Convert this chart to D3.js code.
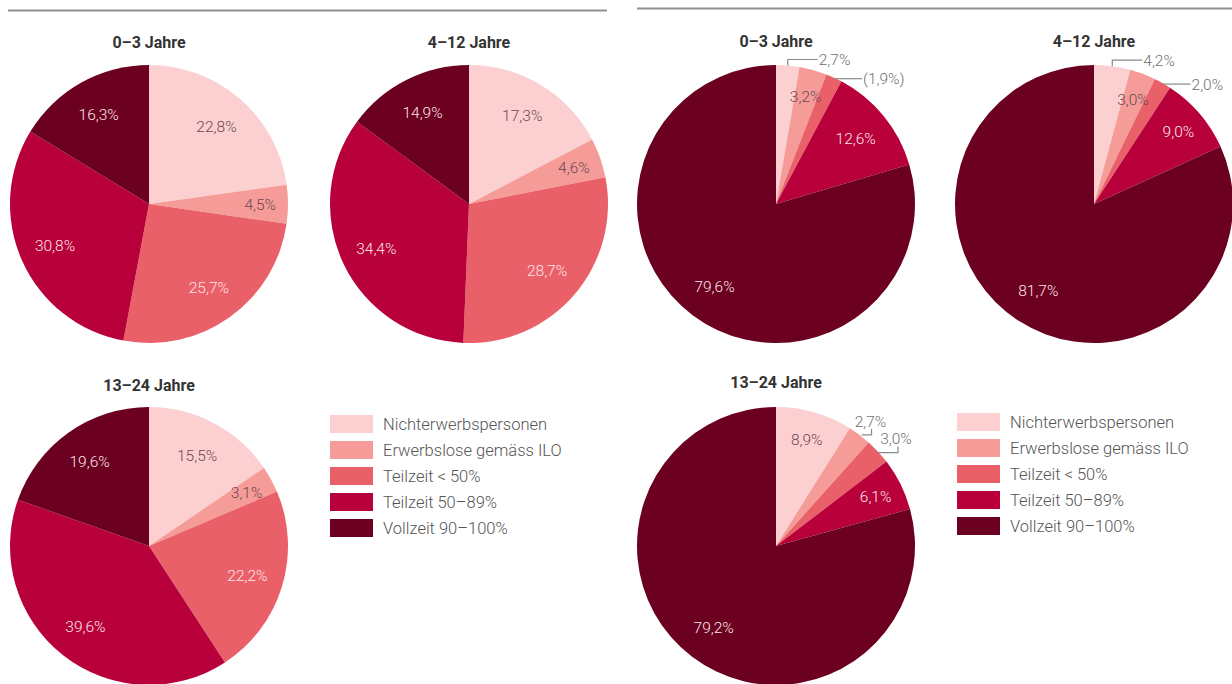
<!DOCTYPE html>
<html><head><meta charset="utf-8">
<script src="https://cdn.jsdelivr.net/npm/d3@7/dist/d3.min.js"></script>
<style>
html,body{margin:0;padding:0;background:#fff;}
svg{display:block;font-family:Roboto,"Noto Sans",sans-serif;}
</style></head>
<body><svg id="chart" width="1232" height="684"></svg>
<script>
const categories = ["Nichterwerbspersonen","Erwerbslose gemäss ILO","Teilzeit < 50%","Teilzeit 50–89%","Vollzeit 90–100%"];
const colors = ["#fcd0d0","#f59c98","#ea6068","#b8003a","#6c0020"];
const ageGroups = ["0–3 Jahre","4–12 Jahre","13–24 Jahre"];
const leftValues0 = [22.8,4.5,25.7,30.8,16.3];
const leftValues1 = [17.3,4.6,28.7,34.4,14.9];
const leftValues2 = [15.5,3.1,22.2,39.6,19.6];
const rightValues0 = [2.7,3.2,1.9,12.6,79.6];
const rightValues1 = [4.2,3.0,2.0,9.0,81.7];
const rightValues2 = [8.9,2.7,3.0,6.1,79.2];
const rightLabels0 = ["2,7%","3,2%","(1,9%)","12,6%","79,6%"];
const rightLabels1 = ["4,2%","3,0%","2,0%","9,0%","81,7%"];
const rightLabels2 = ["8,9%","2,7%","3,0%","6,1%","79,2%"];

const fmt = v => d3.format(".1f")(v).replace(".", ",") + "%";
const svg = d3.select("#chart");
const R = 139;
const color = d3.scaleOrdinal().domain(categories).range(colors);

// top rules
svg.append("line").attr("x1",8).attr("x2",607).attr("y1",10.5).attr("y2",10.5).attr("stroke","#8f8f8f").attr("stroke-width",2);
svg.append("line").attr("x1",637).attr("x2",1232).attr("y1",8.5).attr("y2",8.5).attr("stroke","#8f8f8f").attr("stroke-width",2);

const pies = [
  {cx:149, cy:204, ty:48, title:ageGroups[0], values:leftValues0, labels:leftValues0.map(fmt), leaders:{}},
  {cx:469, cy:204, ty:48, title:ageGroups[1], values:leftValues1, labels:leftValues1.map(fmt), leaders:{}},
  {cx:149, cy:546, ty:391, title:ageGroups[2], values:leftValues2, labels:leftValues2.map(fmt), leaders:{}},
  {cx:776, cy:204, ty:47, title:ageGroups[0], values:rightValues0, labels:rightLabels0, leaders:{0:"up",2:"side"}},
  {cx:1094, cy:204, ty:47, title:ageGroups[1], values:rightValues1, labels:rightLabels1, leaders:{0:"up",2:"side"}},
  {cx:776, cy:546, ty:388, title:ageGroups[2], values:rightValues2, labels:rightLabels2, leaders:{1:"under",2:"under2"}},
];

const pie = d3.pie().sort(null).value(d => d.v);
const arc = d3.arc().innerRadius(0).outerRadius(R);

pies.forEach(p => {
  const g = svg.append("g").attr("transform", `translate(${p.cx},${p.cy})`);
  const data = pie(p.values.map((v,i) => ({v, i, cat: categories[i]})));
  g.selectAll("path").data(data).join("path")
    .attr("d", arc).attr("fill", d => color(d.data.cat));
  svg.append("text").attr("x", p.cx).attr("y", p.ty)
    .attr("text-anchor","middle").attr("font-size",16).attr("font-weight",700).attr("fill","#333")
    .text(p.title);
  data.forEach(d => {
    const i = d.data.i;
    const mid = (d.startAngle + d.endAngle) / 2;
    const lt = p.leaders[i];
    if (lt) {
      const px = Math.sin(mid) * R, py = -Math.cos(mid) * R;
      let pts, tx, ty, anchor;
      if (lt === "up") { pts = [[px,py],[px,py-6],[px+30,py-6]]; tx = px+31; ty = py-6; anchor="start"; }
      else if (lt === "side") { pts = [[px,py+1],[px+28,py+1]]; tx = px+29; ty = py+1; anchor="start"; }
      else if (lt === "under") { pts = [[px+2,py],[px+12,py],[px+12,py-6]]; tx = px+11; ty = py-13; anchor="middle"; }
      else { pts = [[px,py+1],[px+20,py+1],[px+20,py-5]]; tx = px+18; ty = py-13; anchor="middle"; }
      g.append("path").attr("d", d3.line()(pts)).attr("fill","none").attr("stroke","#8a8a8a").attr("stroke-width",1.2);
      g.append("text").attr("x", tx).attr("y", ty).attr("dy","0.35em").attr("text-anchor",anchor)
        .attr("font-size",15.5).attr("font-weight",300).attr("fill","#707070").text(p.labels[i]);
    } else {
      const lr = d.data.v < 10 ? R*0.8 : R*0.74;
      const x = Math.sin(mid)*lr, y = -Math.cos(mid)*lr;
      g.append("text").attr("x", x).attr("y", y).attr("dy","0.35em").attr("text-anchor","middle")
        .attr("font-size",15.5).attr("font-weight",300)
        .attr("fill", i < 2 ? "#6b4850" : "#fde6ea")
        .text(p.labels[i]);
    }
  });
});

// legends
[{x:330, y:415},{x:957, y:413}].forEach(L => {
  const lg = svg.append("g").attr("transform", `translate(${L.x},${L.y})`);
  categories.forEach((c,i) => {
    lg.append("rect").attr("x",0).attr("y",i*26).attr("width",43).attr("height",18).attr("fill",color(c));
    lg.append("text").attr("x",53).attr("y",i*26+9).attr("dy","0.35em")
      .attr("font-size",16.5).attr("font-weight",300).attr("fill","#555").text(c);
  });
});
</script></body></html>
